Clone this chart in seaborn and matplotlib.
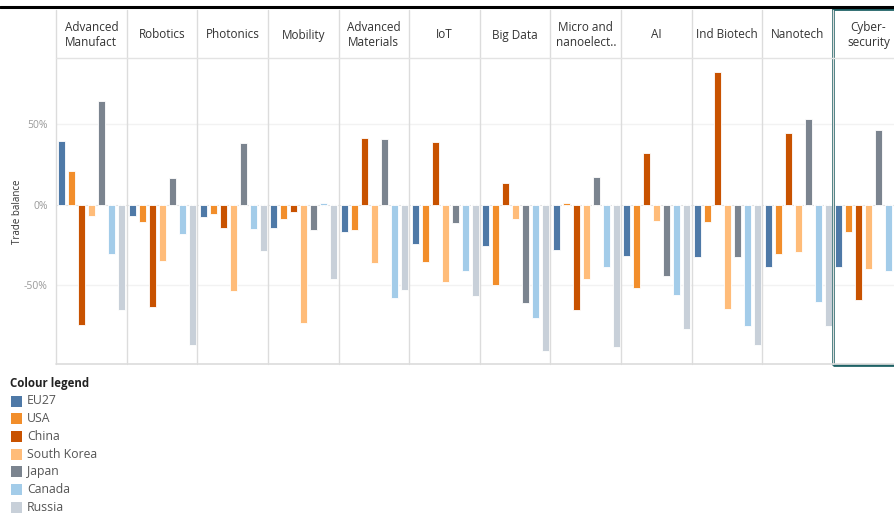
import numpy as np
import pandas as pd
import matplotlib
matplotlib.use("Agg")
import matplotlib.pyplot as plt
from matplotlib.lines import Line2D
from matplotlib.patches import Rectangle
import seaborn as sns

# ---------------- data ----------------
categories = ["Advanced\nManufact", "Robotics", "Photonics", "Mobility", "Advanced\nMaterials",
              "IoT", "Big Data", "Micro and\nnanoelect..", "AI", "Ind Biotech", "Nanotech",
              "Cyber-\nsecurity"]
countries = ["EU27", "USA", "China", "South Korea", "Japan", "Canada", "Russia"]

eu27 = [39.4, -7.3, -8.0, -14.8, -17.3, -24.6, -26.0, -28.0, -31.9, -32.7, -38.5, -39.0]
usa = [20.6, -11.0, -5.8, -9.0, -15.8, -35.6, -49.8, 1.0, -51.7, -11.0, -30.6, -17.3]
china = [-74.6, -63.5, -14.4, -4.4, 41.5, 38.8, 13.5, -65.6, 32.3, 82.3, 44.6, -59.0]
south_korea = [-7.3, -35.0, -53.8, -73.5, -36.3, -48.0, -8.8, -46.5, -10.4, -64.8, -29.4, -40.2]
japan = [64.4, 16.7, 38.5, -15.8, 41.0, -11.5, -61.0, 16.9, -44.4, -32.3, 53.3, 46.2]
canada = [-31.0, -18.0, -15.2, 1.0, -58.0, -41.0, -70.4, -39.0, -56.3, -75.2, -60.2, -41.0]
russia = [-65.2, -87.0, -29.0, -46.5, -53.0, -57.0, -91.0, -88.5, -77.0, -87.0, -75.2, np.nan]

colors = ["#4e79a7", "#f28e2b", "#c85200", "#ffbc79", "#7b848f", "#a3cce9", "#c8d0d9"]

series = [eu27, usa, china, south_korea, japan, canada, russia]
rows = []
for c, vals in zip(countries, series):
    for cat, v in zip(categories, vals):
        rows.append({"category": cat, "country": c, "value": v})
df = pd.DataFrame(rows)

# ---------------- layout ----------------
sns.set_theme(style="white")
plt.rcParams["font.family"] = ["Open Sans", "DejaVu Sans"]

W, H = 894, 516
fig = plt.figure(figsize=(W / 100, H / 100), dpi=100)

def fx(px):
    return px / W

def fy(py):
    return 1 - py / H

x0 = 56.0
pw = (833.0 - 56.0) / 11
plot_top, plot_bot = 58.0, 364.0
head_top = 10.0
palette = dict(zip(countries, colors))

for i, cat in enumerate(categories):
    left = x0 + i * pw
    ax = fig.add_axes([fx(left), fy(plot_bot), pw / W, (plot_bot - plot_top) / H])
    sub = df[df["category"] == cat]
    sns.barplot(data=sub, x="country", y="value", hue="country", order=countries,
                hue_order=countries, palette=palette, legend=False, ax=ax,
                width=0.7, edgecolor="white", linewidth=0.6, errorbar=None,
                saturation=1)
    ax.set_xlim(-0.583, 6.48)
    ax.set_ylim(-99, 91)
    for yv in (50, -50):
        ax.axhline(yv, color="#f2f2f2", lw=1.0, zorder=0)
    ax.axhline(0, color="#d0d0d0", lw=0.8, ls=(0, (1, 2)), zorder=0)
    for s in ax.spines.values():
        s.set_visible(False)
    ax.set_xlabel("")
    ax.set_ylabel("")
    ax.set_xticks([])
    ax.set_facecolor("none")
    if i == 0:
        ax.set_yticks([50, 0, -50])
        ax.set_yticklabels(["50%", "0%", "-50%"], color="#9a9a9a", fontsize=7.5)
        ax.tick_params(axis="y", length=0, pad=6)
    else:
        ax.set_yticks([])
    # header text
    fig.text(fx(left + pw / 2), fy(35), cat, ha="center", va="center",
             fontsize=8.5, color="#333333", linespacing=1.25)

# y-axis title
fig.text(fx(17), fy(212), "Trade balance", rotation=90, fontsize=7, color="#333333",
         ha="center", va="center")

# separators
for i in range(12):
    xl = x0 + i * pw
    fig.add_artist(Line2D([fx(xl), fx(xl)], [fy(head_top), fy(plot_bot)],
                          color="#dcdcdc", lw=1.0))
fig.add_artist(Line2D([fx(x0), 1.0], [fy(plot_top), fy(plot_top)], color="#e3e3e3", lw=1.0))
fig.add_artist(Line2D([fx(x0), 1.0], [fy(plot_bot), fy(plot_bot)], color="#dcdcdc", lw=1.2))

# top black rule
fig.add_artist(Line2D([0, 1], [fy(7), fy(7)], color="black", lw=2.2))

# highlighted last panel
fig.add_artist(Rectangle((fx(833), fy(365)), (W - 833 + 20) / W, (365 - 9) / H,
                         transform=fig.transFigure, fill=False, edgecolor="#1f6266",
                         lw=2.0, clip_on=False))

# legend
fig.text(fx(10), fy(384), "Colour legend", fontsize=8.3, fontweight="bold",
         color="#222222", va="center", ha="left")
for k, (c, col) in enumerate(zip(countries, colors)):
    yc = 401 + k * 17.7
    fig.add_artist(Rectangle((fx(11), fy(yc + 5.5)), 11 / W, 11 / H,
                             transform=fig.transFigure, facecolor=col, edgecolor="none"))
    fig.text(fx(27), fy(yc), c, fontsize=8.8, color="#555555", va="center", ha="left")

fig.savefig("out.png", dpi=100)
